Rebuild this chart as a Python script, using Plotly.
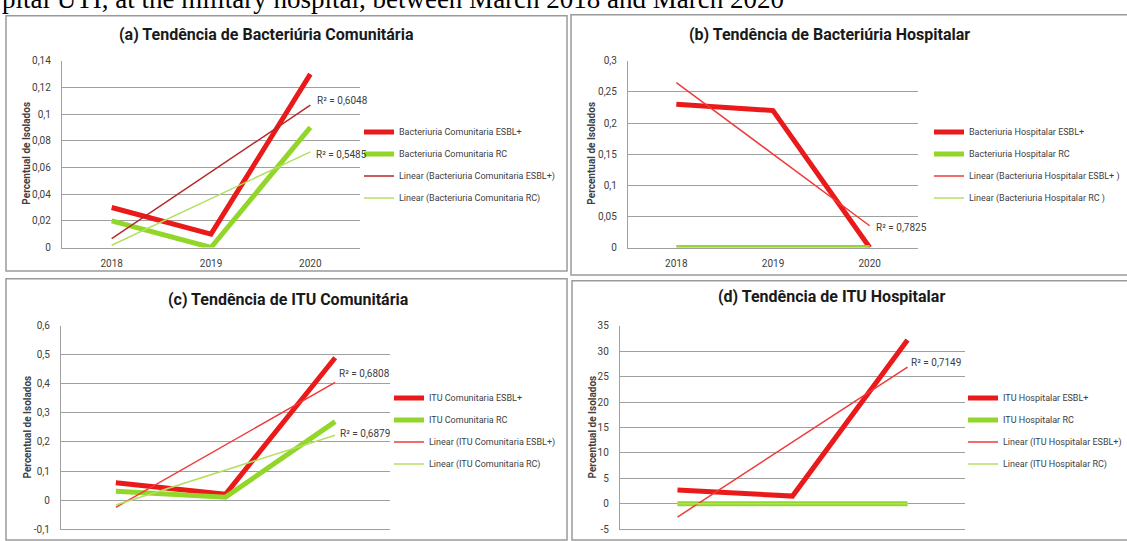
import numpy as np
import plotly.graph_objects as go

W, H = 1127, 541

years = ["2018", "2019", "2020"]

# (a) Bacteriúria Comunitária
a_esbl = [0.03, 0.01, 0.13]
a_rc = [0.02, 0.0, 0.09]
# (b) Bacteriúria Hospitalar
b_esbl = [0.23, 0.22, 0.0]
b_rc = [0.0, 0.0, 0.0]
# (c) ITU Comunitária
c_esbl = [0.06, 0.02, 0.49]
c_rc = [0.03, 0.01, 0.27]
# (d) ITU Hospitalar
d_esbl = [2.7, 1.5, 32.2]
d_rc = [0.0, 0.0, 0.0]

titles = [
    "(a) Tendência de Bacteriúria Comunitária",
    "(b) Tendência de Bacteriúria Hospitalar",
    "(c) Tendência de ITU Comunitária",
    "(d) Tendência de ITU Hospitalar",
]
series_names = [
    ["Bacteriuria Comunitaria ESBL+", "Bacteriuria Comunitaria RC",
     "Linear (Bacteriuria Comunitaria ESBL+)", "Linear (Bacteriuria Comunitaria RC)"],
    ["Bacteriuria Hospitalar ESBL+", "Bacteriuria Hospitalar RC",
     "Linear (Bacteriuria Hospitalar ESBL+ )", "Linear (Bacteriuria Hospitalar RC )"],
    ["ITU Comunitaria ESBL+", "ITU Comunitaria RC",
     "Linear (ITU Comunitaria ESBL+)", "Linear (ITU Comunitaria RC)"],
    ["ITU Hospitalar ESBL+", "ITU Hospitalar RC",
     "Linear (ITU Hospitalar ESBL+)", "Linear (ITU Hospitalar RC)"],
]
r2_labels = [
    ["R² = 0,6048", "R² = 0,5485"],
    ["R² = 0,7825"],
    ["R² = 0,6808", "R² = 0,6879"],
    ["R² = 0,7149"],
]
y_ticks = [
    [0, 0.02, 0.04, 0.06, 0.08, 0.1, 0.12, 0.14],
    [0, 0.05, 0.1, 0.15, 0.2, 0.25, 0.3],
    [-0.1, 0, 0.1, 0.2, 0.3, 0.4, 0.5, 0.6],
    [-5, 0, 5, 10, 15, 20, 25, 30, 35],
]
caption = "pital UTI, at the military hospital, between March 2018 and March 2020"
y_title = "Percentual de Isolados"

# ---------------- style / layout ----------------
FONT = "Roboto, Liberation Sans, sans-serif"
RED = "#ea1a1a"
GREEN = "#92d62a"
TREND_RED = ["#b82828", "#f03a3a", "#f03a3a", "#f03a3a"]
TREND_GREEN = "#b4e060"
GRID = "#a0a0a0"
TXT = "#404040"

panels_data = [(a_esbl, a_rc), (b_esbl, b_rc), (c_esbl, c_rc), (d_esbl, d_rc)]

# plot areas in pixels (left, right, top, bottom)
plot_px = [(62, 360, 56, 247), (628, 918, 56, 247), (61, 390, 327, 535), (620, 965, 327, 535)]
legend_px = [(359, 114), (929, 114), (389, 386), (963, 386)]
title_px = [(266, 29), (829, 29), (288, 300), (831, 297)]
r2_px = [[(342, 97), (341, 152)], [(901, 227)], [(364, 376), (365, 437)], [(936, 365)]]
ytitle_px = [(27, 151), (592, 151), (27, 431), (592, 431)]


def fmt(v):
    return ("%g" % v).replace(".", ",")


fig = go.Figure()
layout = dict(
    width=W, height=H,
    margin=dict(l=0, r=0, t=0, b=0),
    paper_bgcolor="white", plot_bgcolor="white",
    showlegend=True,
)
annotations = []
shapes = []

xs = np.arange(len(years))
for i, (esbl, rc) in enumerate(panels_data):
    sfx = "" if i == 0 else str(i + 1)
    xa, ya = "x" + sfx, "y" + sfx
    leg = "legend" if i == 0 else "legend" + str(i + 1)
    names = series_names[i]
    fit_e = np.polyval(np.polyfit(xs, esbl, 1), xs)
    fit_r = np.polyval(np.polyfit(xs, rc, 1), xs)
    fig.add_trace(go.Scatter(x=years, y=esbl, mode="lines", name=names[0],
                             line=dict(color=RED, width=5), xaxis=xa, yaxis=ya,
                             legend=leg, legendgroup=f"g{i}0"))
    fig.add_trace(go.Scatter(x=years, y=rc, mode="lines", name=names[1],
                             line=dict(color=GREEN, width=5), xaxis=xa, yaxis=ya,
                             legend=leg, legendgroup=f"g{i}1"))
    fig.add_trace(go.Scatter(x=years, y=fit_e, mode="lines", name=names[2],
                             line=dict(color=TREND_RED[i], width=1.5), xaxis=xa, yaxis=ya,
                             legend=leg, legendgroup=f"g{i}2"))
    fig.add_trace(go.Scatter(x=years, y=fit_r, mode="lines", name=names[3],
                             line=dict(color=TREND_GREEN, width=1.5), xaxis=xa, yaxis=ya,
                             legend=leg, legendgroup=f"g{i}3"))

    l, r, t, b = plot_px[i]
    ticks = y_ticks[i]
    show_x = i < 2
    layout["xaxis" + sfx] = dict(
        domain=[l / W, r / W], anchor=ya, type="category",
        range=[-0.5, 2.5], showgrid=False, zeroline=False,
        showline=True, linecolor=GRID, linewidth=1.3,
        ticks="", showticklabels=show_x, ticklabelstandoff=6,
        tickfont=dict(family=FONT, size=10, color=TXT),
        fixedrange=True,
    )
    layout["yaxis" + sfx] = dict(
        domain=[1 - b / H, 1 - t / H], anchor=xa,
        range=[ticks[0], ticks[-1]], tickvals=ticks,
        ticktext=[fmt(v) for v in ticks],
        showgrid=True, gridcolor=GRID, gridwidth=1.3,
        zeroline=False, showline=True, linecolor=GRID, linewidth=1.3,
        ticks="", ticklabelstandoff=8,
        tickfont=dict(family=FONT, size=10, color=TXT),
        fixedrange=True,
    )
    if not show_x:
        for yr in years:
            annotations.append(dict(
                x=yr, y=0, xref=xa, yref=ya, text=yr, showarrow=False,
                yanchor="middle", yshift=-15,
                font=dict(family=FONT, size=10, color=TXT)))

    # y-axis title
    yx, yy = ytitle_px[i]
    annotations.append(dict(
        x=yx / W, y=1 - yy / H, xref="paper", yref="paper", text=y_title,
        showarrow=False, textangle=-90, xanchor="center", yanchor="middle",
        font=dict(family=FONT, size=10, color=TXT, weight="bold")))

    lx, ly = legend_px[i]
    layout[leg] = dict(
        x=lx / W, y=1 - ly / H, xanchor="left", yanchor="top",
        font=dict(family=FONT, size=9, color=TXT),
        bgcolor="rgba(0,0,0,0)", borderwidth=0,
        traceorder="grouped", tracegroupgap=3, itemwidth=30,
    )

    tx, ty = title_px[i]
    annotations.append(dict(
        x=tx / W, y=1 - ty / H, xref="paper", yref="paper", text=titles[i],
        showarrow=False, xanchor="center", yanchor="middle",
        font=dict(family=FONT, size=16, color="#1a1a1a", weight="bold")))

    for (rx, ry), lab in zip(r2_px[i], r2_labels[i]):
        annotations.append(dict(
            x=rx / W, y=1 - ry / H, xref="paper", yref="paper", text=lab,
            showarrow=False, xanchor="center", yanchor="middle",
            font=dict(family=FONT, size=10, color=TXT)))

# panel frames
frames_px = [(6, 10, 567, 271), (571, 9, 1130, 275), (6, 279, 567, 546), (572, 281, 1130, 546)]
for (x0, y0, x1, y1) in frames_px:
    shapes.append(dict(type="rect", xref="paper", yref="paper",
                       x0=x0 / W, x1=x1 / W, y0=1 - y1 / H, y1=1 - y0 / H,
                       line=dict(color="#9a9a9a", width=1.5), layer="below"))

# caption cut at the top (as in the source page)
annotations.append(dict(
    x=0, y=1 - 10 / H, xref="paper", yref="paper", text=caption,
    showarrow=False, xanchor="left", yanchor="bottom",
    font=dict(family="Liberation Serif, Times New Roman, serif", size=27, color="black")))

layout["annotations"] = annotations
layout["shapes"] = shapes
fig.update_layout(**layout)
fig.write_html(
    "out.html",
    config={"displayModeBar": False},
    post_script="document.body.style.margin='0';document.body.style.padding='0';"
                "document.body.style.overflow='hidden';",
)
